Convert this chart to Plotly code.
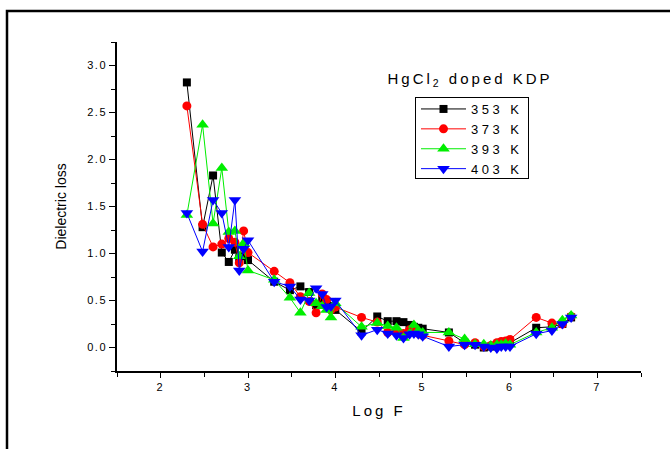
import plotly.graph_objects as go

log_f = [2.30, 2.48, 2.60, 2.70, 2.78, 2.85, 2.90, 2.95, 3.00, 3.30, 3.48, 3.60, 3.70, 3.78,
         3.85, 3.90, 3.95, 4.00, 4.30, 4.48, 4.60, 4.70, 4.78, 4.85, 4.90, 4.95, 5.00, 5.30,
         5.48, 5.60, 5.70, 5.78, 5.85, 5.90, 5.95, 6.00, 6.30, 6.48, 6.60, 6.70]

loss_353 = [2.82, 1.28, 1.83, 1.01, 0.91, 1.04, 0.95, 0.97, 0.93, 0.70, 0.61, 0.65, 0.59, 0.45,
            0.52, 0.49, 0.44, 0.40, 0.17, 0.33, 0.28, 0.28, 0.27, 0.24, 0.22, 0.21, 0.20, 0.16,
            0.05, 0.03, 0.00, 0.01, 0.02, 0.03, 0.04, 0.05, 0.21, 0.22, 0.25, 0.32]
loss_373 = [2.57, 1.31, 1.07, 1.10, 1.16, 1.12, 0.90, 1.24, 1.01, 0.81, 0.69, 0.54, 0.49, 0.37,
            0.57, 0.51, 0.40, 0.43, 0.32, 0.27, 0.16, 0.17, 0.15, 0.19, 0.17, 0.15, 0.13, 0.07,
            0.03, 0.05, 0.01, 0.02, 0.05, 0.065, 0.07, 0.085, 0.32, 0.26, 0.25, 0.33]
loss_393 = [1.41, 2.37, 1.32, 1.91, 1.23, 1.24, 0.97, 1.11, 0.82, 0.72, 0.53, 0.37, 0.58, 0.47,
            0.44, 0.40, 0.32, 0.47, 0.22, 0.26, 0.23, 0.21, 0.10, 0.15, 0.24, 0.18, 0.16, 0.16,
            0.09, 0.035, 0.035, 0.02, 0.03, 0.03, 0.04, 0.03, 0.16, 0.21, 0.29, 0.34]
loss_403 = [1.43, 1.02, 1.57, 1.43, 1.07, 1.57, 0.82, 1.05, 1.14, 0.70, 0.65, 0.51, 0.50, 0.63,
            0.57, 0.43, 0.44, 0.50, 0.13, 0.19, 0.15, 0.13, 0.10, 0.14, 0.15, 0.14, 0.12, 0.01,
            0.03, 0.03, 0.01, 0.00, -0.01, 0.01, 0.01, 0.01, 0.145, 0.18, 0.25, 0.32]

series = [
    ("353 K", loss_353, "#000000", "square", 8),
    ("373 K", loss_373, "#ff0000", "circle", 9),
    ("393 K", loss_393, "#00ee00", "triangle-up", 11),
    ("403 K", loss_403, "#0000ff", "triangle-down", 11),
]

fig = go.Figure()
for name, ys, color, sym, size in series:
    fig.add_trace(go.Scatter(
        x=log_f, y=ys, name=name, mode="lines+markers",
        line=dict(color=color, width=1),
        marker=dict(symbol=sym, size=size, color=color, line=dict(width=0)),
    ))

font = "Liberation Sans, Arial, sans-serif"
L, R, T, B = 117, 29, 42, 78
PW, PH = 670 - L - R, 449 - T - B


def px_x(px):
    return (px - L) / PW


def px_y(py):
    return (449 - B - py) / PH


fig.update_layout(
    width=670, height=449,
    margin=dict(l=L, r=R, t=T, b=B),
    paper_bgcolor="white", plot_bgcolor="white",
    font=dict(family=font, color="#000000"),
    showlegend=True,
    legend=dict(x=px_x(415), y=px_y(93), xanchor="left", yanchor="top",
                bordercolor="#000000", borderwidth=1, bgcolor="white",
                font=dict(size=13, family=font, color="#000000"), itemwidth=45,
                tracegroupgap=0),
    xaxis=dict(range=[1.5, 7.5], tickmode="linear", tick0=2, dtick=1,
               showgrid=False, zeroline=False, showline=True, linecolor="#000000",
               linewidth=1.5, ticks="outside", ticklen=5, tickcolor="#000000",
               tickfont=dict(size=11, color="#000000"),
               minor=dict(ticks="outside", ticklen=4, tick0=1.5, dtick=0.5, tickcolor="#000000"),
               title=dict(text="Log F", font=dict(size=15, color="#000000"), standoff=14)),
    yaxis=dict(range=[-0.25, 3.25], tickmode="linear", tick0=0, dtick=0.5, tickformat=".1f",
               showgrid=False, zeroline=False, showline=True, linecolor="#000000",
               linewidth=1.5, ticks="outside", ticklen=6, tickcolor="#000000",
               tickfont=dict(size=11, color="#000000"),
               minor=dict(ticks="outside", ticklen=4, tick0=0.25, dtick=0.5, tickcolor="#000000"),
               title=dict(text="Dielectric loss", font=dict(size=14, color="#000000"), standoff=22)),
    annotations=[dict(text="HgCl<sub>2</sub> doped KDP", x=px_x(470),
                      y=px_y(80), xref="paper", yref="paper",
                      showarrow=False, font=dict(size=15, family=font, color="#000000"),
                      xanchor="center", yanchor="middle")],
    shapes=[dict(type="rect", xref="paper", yref="paper",
                 x0=px_x(7), x1=px_x(676),
                 y0=px_y(460), y1=px_y(11),
                 line=dict(color="#000000", width=2.5), layer="below")],
)

post = """
document.body.style.margin = '0px';
function spaceText() {
  var sel = [['.xtick text', '2px'], ['.ytick text', '1.5px'], ['.g-xtitle text', '3px'],
             ['.annotation-text', '3px'], ['.legendtext', '3.5px']];
  sel.forEach(function (s) {
    document.querySelectorAll(s[0]).forEach(function (e) { e.style.letterSpacing = s[1]; });
  });
  var bg = document.querySelector('.legend rect.bg');
  if (bg) {
    var y0 = parseFloat(bg.getAttribute('y') || '0');
    bg.setAttribute('y', String(y0 + 4));
    bg.setAttribute('width', '113');
    bg.setAttribute('height', '81');
  }
  document.querySelectorAll('clipPath[id^="legend"] rect').forEach(function (r) {
    r.setAttribute('width', '113');
  });
  var lg = document.querySelector('g.legend');
  if (lg) { lg.removeAttribute('clip-path'); }
  var sc = document.querySelector('g.legend g.scrollbox');
  if (sc) { sc.removeAttribute('clip-path'); }
}
spaceText();
"""

fig.write_html("out.html", post_script=post, config={"displayModeBar": False})
